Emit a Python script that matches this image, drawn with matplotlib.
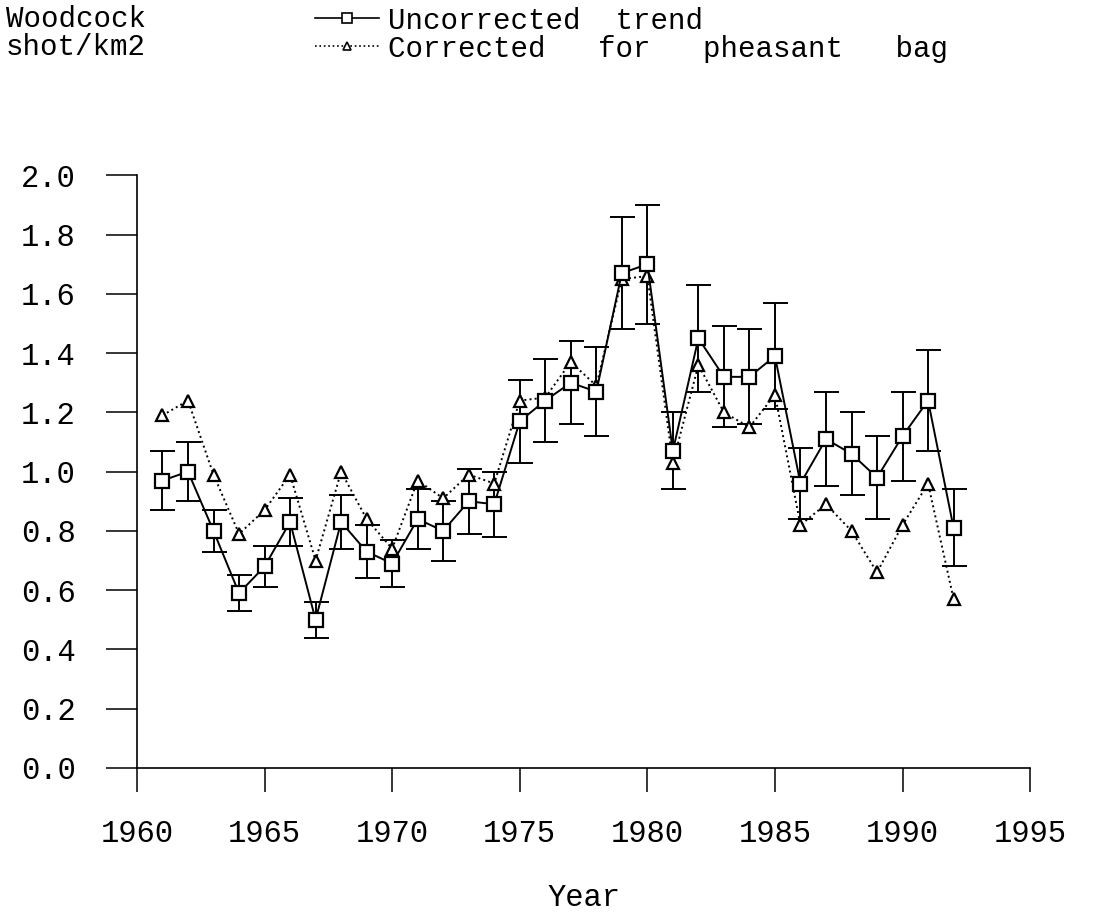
import numpy as np
import matplotlib
matplotlib.use("Agg")
import matplotlib.pyplot as plt
from matplotlib.lines import Line2D

plt.rcParams['font.family'] = ['Liberation Mono', 'DejaVu Sans']

years = list(range(1961, 1993))
uncorrected = [0.97, 1.00, 0.80, 0.59, 0.68, 0.83, 0.50, 0.83, 0.73, 0.69,
               0.84, 0.80, 0.90, 0.89, 1.17, 1.24, 1.30, 1.27, 1.67, 1.70,
               1.07, 1.45, 1.32, 1.32, 1.39, 0.96, 1.11, 1.06, 0.98, 1.12,
               1.24, 0.81]
upper = [1.07, 1.10, 0.87, 0.65, 0.75, 0.91, 0.56, 0.92, 0.82, 0.77,
         0.94, 0.90, 1.01, 1.00, 1.31, 1.38, 1.44, 1.42, 1.86, 1.90,
         1.20, 1.63, 1.49, 1.48, 1.57, 1.08, 1.27, 1.20, 1.12, 1.27,
         1.41, 0.94]
lower = [0.87, 0.90, 0.73, 0.53, 0.61, 0.75, 0.44, 0.74, 0.64, 0.61,
         0.74, 0.70, 0.79, 0.78, 1.03, 1.10, 1.16, 1.12, 1.48, 1.50,
         0.94, 1.27, 1.15, 1.16, 1.21, 0.84, 0.95, 0.92, 0.84, 0.97,
         1.07, 0.68]
corrected = [1.19, 1.24, 0.99, 0.79, 0.87, 0.99, 0.70, 1.00, 0.84, 0.74,
             0.97, 0.91, 0.99, 0.96, 1.24, 1.25, 1.37, 1.29, 1.65, 1.66,
             1.03, 1.36, 1.20, 1.15, 1.26, 0.82, 0.89, 0.80, 0.66, 0.82,
             0.96, 0.57]

x_ticks = [1960, 1965, 1970, 1975, 1980, 1985, 1990, 1995]
y_ticks = [0.0, 0.2, 0.4, 0.6, 0.8, 1.0, 1.2, 1.4, 1.6, 1.8, 2.0]

unc = np.array(uncorrected)
yerr = [unc - np.array(lower), np.array(upper) - unc]

fig = plt.figure(figsize=(11, 9.23), dpi=100)
ax = fig.add_axes([0.1245, 0.168, 0.812, 0.642])

ax.errorbar(years, uncorrected, yerr=yerr, fmt='none', ecolor='black',
            elinewidth=1.4, capsize=9, capthick=1.4, zorder=2)
ax.plot(years, corrected, color='black', linestyle=':', linewidth=1.4,
        marker='^', markersize=8, markerfacecolor='white',
        markeredgecolor='black', markeredgewidth=1.6, zorder=3)
ax.plot(years, uncorrected, color='black', linestyle='-', linewidth=1.4,
        marker='s', markersize=10, markerfacecolor='white',
        markeredgecolor='black', markeredgewidth=1.6, zorder=4)

ax.set_xlim(1960, 1995)
ax.set_ylim(0, 2.0)
ax.set_xticks(x_ticks)
ax.set_yticks(y_ticks)
ax.set_yticklabels(['%.1f' % v for v in y_ticks])
ax.spines['top'].set_visible(False)
ax.spines['right'].set_visible(False)
ax.spines['left'].set_linewidth(1.2)
ax.spines['bottom'].set_linewidth(1.2)
ax.tick_params(axis='y', direction='out', length=22, width=1.1,
               labelsize=22, pad=22)
ax.tick_params(axis='x', direction='out', length=17, width=1.1,
               labelsize=22, pad=20)
ax.set_xlabel('Year', fontsize=22, labelpad=24)

fig.text(0.005, 0.995, 'Woodcock\nshot/km2', fontsize=21, va='top',
         ha='left', linespacing=1.0)

handles = [
    Line2D([], [], color='black', linestyle='-', linewidth=1.2, marker='s',
           markersize=7, markerfacecolor='white', markeredgewidth=1.2),
    Line2D([], [], color='black', linestyle=':', linewidth=1.2, marker='^',
           markersize=6, markerfacecolor='white', markeredgewidth=1.2),
]
fig.legend(handles, ['Uncorrected  trend', 'Corrected   for   pheasant   bag'],
           loc='upper left', bbox_to_anchor=(0.268, 1.015), frameon=False,
           fontsize=21, handlelength=2.2, handletextpad=0.3,
           labelspacing=0.0, borderpad=0.2)

fig.savefig('out.png', dpi=100)
